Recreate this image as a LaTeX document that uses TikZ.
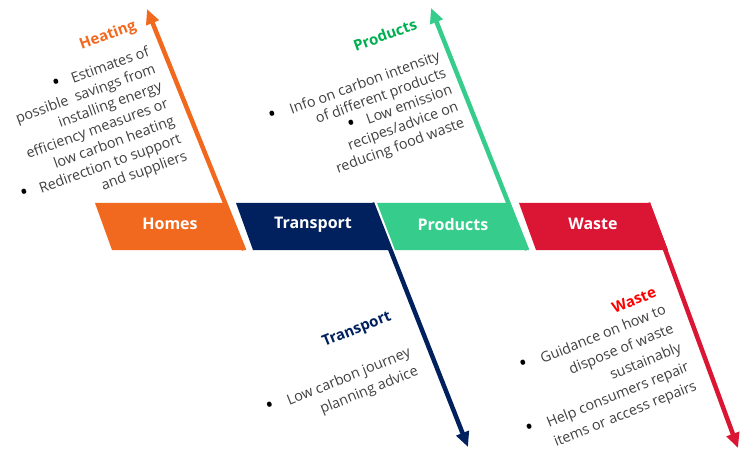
\documentclass[tikz,border=0pt]{standalone}
\usepackage{fontspec}
\usepackage{graphicx}
\setmainfont{Open Sans}
\usetikzlibrary{arrows.meta}

\definecolor{homesorange}{RGB}{241,105,30}
\definecolor{transportblue}{RGB}{0,33,94}
\definecolor{productsgreen}{RGB}{54,205,140}
\definecolor{productshead}{RGB}{0,176,80}
\definecolor{wastered}{RGB}{218,22,52}
\definecolor{wastehead}{RGB}{255,0,0}
\definecolor{bodygray}{RGB}{64,64,64}

\newcommand{\bulletdot}{\textcolor{black}{\scalebox{1.5}{\textbullet}}}

\begin{document}
\begin{tikzpicture}[x=1pt,y=-1pt]
   \useasboundingbox (0,0) rectangle (752,457);
   % the four boxes
   \fill[homesorange] (95,203) -- (227,203) -- (246,250) -- (112,250) -- cycle;
   \fill[transportblue] (236,203) -- (374,203) -- (392,250) -- (253,250) -- cycle;
   \fill[productsgreen] (377,203) -- (510,203) -- (529,250) -- (395,250) -- cycle;
   \fill[wastered] (519,203) -- (650,203) -- (668,250) -- (536,250) -- cycle;
   \begin{scope}[every node/.style={text=white,font=\fontsize{16}{19}\selectfont\bfseries}]
    \node (homes) at (170,224) {Homes};
    \node (transport) at (313,225) {Transport};
    \node (products) at (453,224) {Products};
    \node (waste) at (593,224) {Waste};
   \end{scope}
   % arrows
   \coordinate (h1) at (244,250);
   \coordinate (h2) at (147,9);
   \coordinate (t1) at (372,203);
   \coordinate (t2) at (468,447);
   \coordinate (p1) at (527,250);
   \coordinate (p2) at (431,8);
   \coordinate (w1) at (648,203);
   \coordinate (w2) at (738,448);
   \begin{scope}[line width=4.5pt,-{Triangle[length=15pt,width=13pt]}]
    \draw[homesorange] (h1) -- (h2);
    \draw[transportblue] (t1) -- (t2);
    \draw[productsgreen] (p1) -- (p2);
    \draw[wastered] (w1) -- (w2);
   \end{scope}
   % headings
   \begin{scope}[every node/.style={font=\fontsize{15}{18}\selectfont\bfseries}]
    \node[homesorange,rotate=20] (heating) at (108,36) {Heating};
    \node[productshead,rotate=20] (prodhead) at (385,35) {Products};
    \node[transportblue,rotate=22] (transhead) at (357,330) {Transport};
    \node[wastehead,rotate=22] (wastehead) at (634,300) {Waste};
   \end{scope}
   % bullet texts
   \begin{scope}[every node/.style={text=bodygray,align=right,anchor=east,inner sep=0pt}]
    \node[rotate=20,font=\fontsize{14.3}{18.5}\selectfont] (heatlist) at (168,104)
     {\bulletdot\hspace{0.8em}Estimates of\\ possible\ \ savings from\\ installing energy\\ efficiency measures or\\ low carbon heating\\ \bulletdot\hspace{0.8em}Redirection to support\\ and suppliers};
    \node[rotate=20,font=\fontsize{14.3}{17.8}\selectfont] (prodlist) at (452,90)
     {\bulletdot\hspace{1em}Info on carbon intensity\\ of different products\\ \bulletdot\hspace{0.8em}Low emission\\ recipes/advice on\\ reducing food waste};
    \node[rotate=22,font=\fontsize{14.3}{20}\selectfont] (translist) at (414,362)
     {\bulletdot\hspace{1em}Low carbon journey\\ planning advice};
    \node[rotate=22,font=\fontsize{14.3}{20.5}\selectfont] (wastelist) at (681,348)
     {\bulletdot\hspace{1em}Guidance on how to\\ dispose of waste\\ sustainably\\ \bulletdot\hspace{1em}Help consumers repair\\ items or access repairs};
   \end{scope}
\end{tikzpicture}
\end{document}
